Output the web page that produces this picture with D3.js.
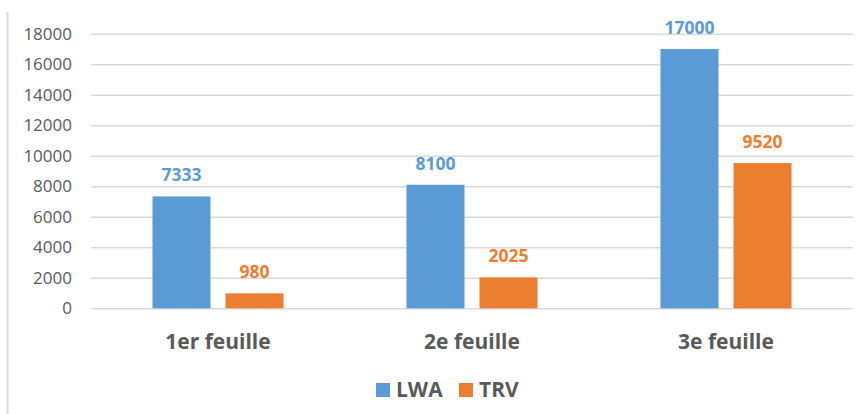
<!DOCTYPE html>
<html>
<head>
<meta charset="utf-8">
<script src="https://cdn.jsdelivr.net/npm/d3@7"></script>
<style>
  html, body { margin: 0; padding: 0; background: #ffffff; }
  svg { display: block; }
</style>
</head>
<body>
<svg id="chart" width="865" height="414"></svg>
<script>
const categories = ["1er feuille", "2e feuille", "3e feuille"];
const seriesNames = ["LWA", "TRV"];
const LWA = [7333, 8100, 17000];
const TRV = [980, 2025, 9520];
const yTicks = [0, 2000, 4000, 6000, 8000, 10000, 12000, 14000, 16000, 18000];
const colors = ["#5B9BD5", "#ED7D31"];

const seriesValues = [LWA, TRV];
const svg = d3.select("#chart");
const font = "'Open Sans', 'Liberation Sans', sans-serif";

// left frame line
svg.append("line")
  .attr("x1", 7.5).attr("x2", 7.5)
  .attr("y1", 12).attr("y2", 414)
  .attr("stroke", "#d9d9d9").attr("stroke-width", 2);

const x0 = d3.scaleBand().domain(categories).range([91, 853]).paddingInner(0).paddingOuter(0);
const x1 = d3.scaleBand().domain(seriesNames).range([0, x0.bandwidth()])
  .paddingInner(0.2055).paddingOuter(0.842);
const y = d3.scaleLinear().domain([0, 18000]).range([308.3, 33.7]);

// gridlines + tick labels via axis
const yAxis = d3.axisLeft(y).tickValues(yTicks).tickSize(-(853 - 91)).tickPadding(19).tickFormat(d3.format("d"));
const gAxis = svg.append("g").attr("transform", "translate(91,0)").call(yAxis);
gAxis.select(".domain").remove();
gAxis.selectAll(".tick line").attr("stroke", "#d9d9d9").attr("stroke-width", 1.5);
gAxis.selectAll(".tick text")
  .attr("fill", "#595959")
  .style("font-family", font)
  .style("font-size", "17px");

// bars
const groups = svg.append("g").selectAll("g")
  .data(categories)
  .join("g")
  .attr("transform", d => `translate(${x0(d)},0)`);

seriesNames.forEach((s, si) => {
  groups.append("rect")
    .attr("x", x1(s))
    .attr("width", x1.bandwidth())
    .attr("y", (d, i) => y(seriesValues[si][i]))
    .attr("height", (d, i) => y(0) - y(seriesValues[si][i]))
    .attr("fill", colors[si]);
  groups.append("text")
    .attr("x", x1(s) + x1.bandwidth() / 2)
    .attr("y", (d, i) => y(seriesValues[si][i]) - 15)
    .attr("text-anchor", "middle")
    .attr("fill", colors[si])
    .style("font-family", font)
    .style("font-weight", "bold")
    .style("font-size", "17.5px")
    .text((d, i) => seriesValues[si][i]);
});

// category labels
svg.append("g").selectAll("text")
  .data(categories)
  .join("text")
  .attr("x", d => x0(d) + x0.bandwidth() / 2)
  .attr("y", 349)
  .attr("text-anchor", "middle")
  .attr("fill", "#595959")
  .style("font-family", font)
  .style("font-weight", "bold")
  .style("font-size", "21px")
  .text(d => d);

// legend
const legendX = [376, 459];
const legend = svg.append("g").selectAll("g")
  .data(seriesNames)
  .join("g")
  .attr("transform", (d, i) => `translate(${legendX[i]},383)`);
legend.append("rect")
  .attr("width", 14).attr("height", 14)
  .attr("fill", (d, i) => colors[i]);
legend.append("text")
  .attr("x", 20).attr("y", 14)
  .attr("fill", "#595959")
  .style("font-family", font)
  .style("font-weight", "bold")
  .style("font-size", "21px")
  .text(d => d);
</script>
</body>
</html>
